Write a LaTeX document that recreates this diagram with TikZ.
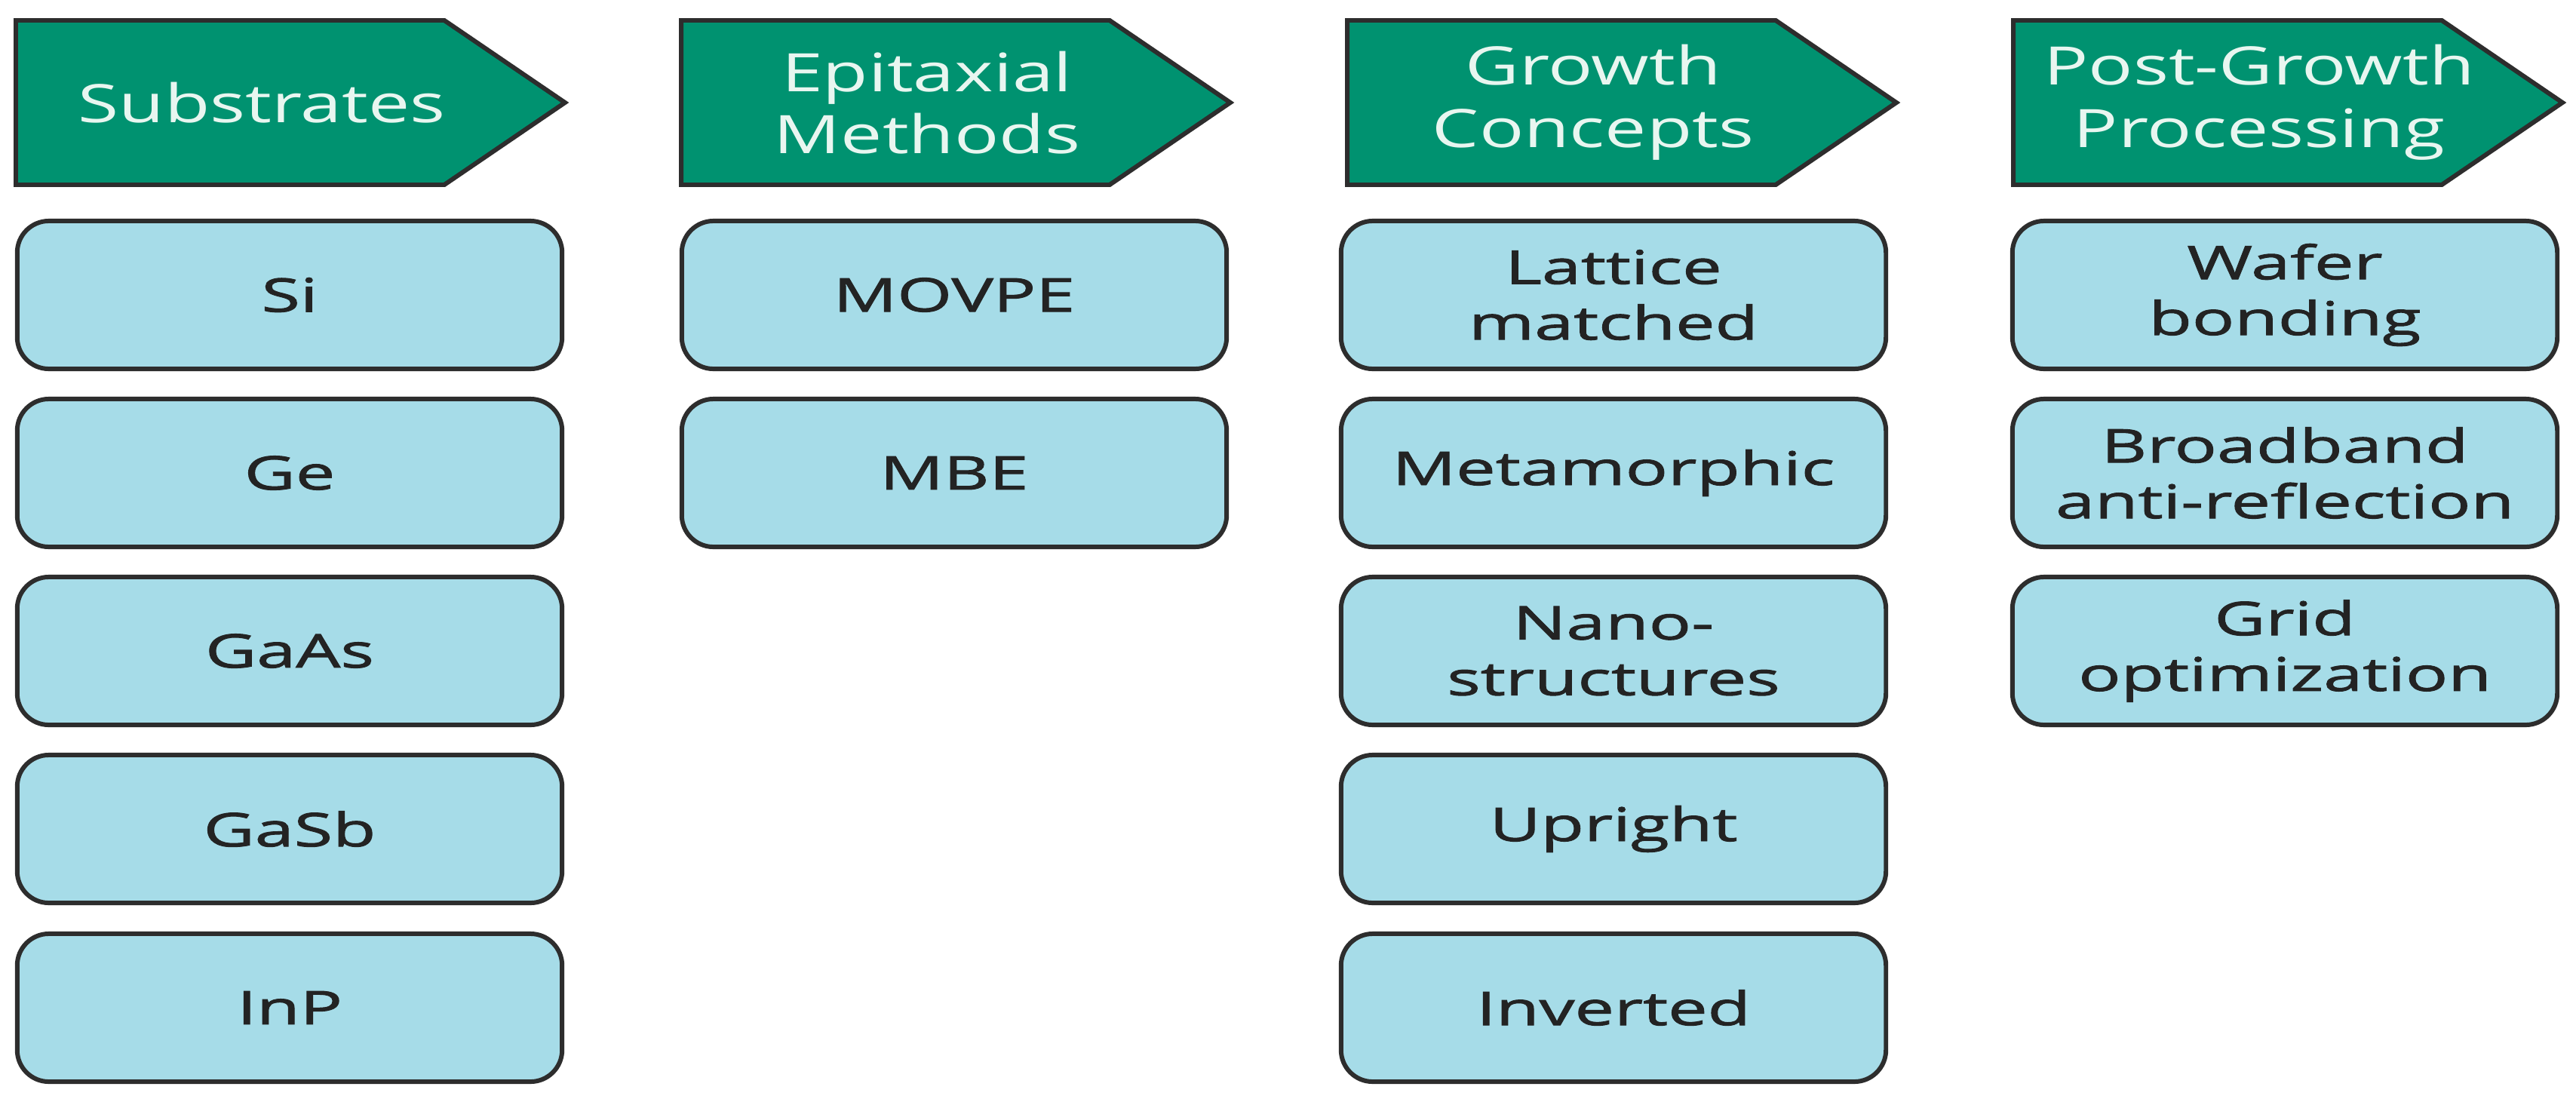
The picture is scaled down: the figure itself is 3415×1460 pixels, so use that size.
\documentclass[tikz,border=0pt]{standalone}
\usepackage{fontspec}
\setmainfont{Open Sans}
\newfontfamily\hdrfont{Open Sans}[FakeStretch=1.4]
\newfontfamily\itemfont{Open Sans}[FakeStretch=1.52,FakeBold=1.6]
\definecolor{hdrgreen}{RGB}{0,146,112}
\definecolor{boxblue}{RGB}{166,220,232}
\definecolor{edgegray}{RGB}{45,45,45}
\definecolor{hdrtxt}{RGB}{232,246,240}
\definecolor{itemtxt}{RGB}{35,35,35}
\tikzset{
  hdrshape/.style={fill=hdrgreen, draw=edgegray, line width=1.7pt, line join=miter},
  hdrtext/.style={text=hdrtxt, font=\hdrfont\fontsize{20}{23.5}\selectfont, align=center, inner sep=0pt},
  itembox/.style={draw=edgegray, fill=boxblue, line width=1.7pt, rounded corners=0.42cm,
    minimum width=7.22cm, minimum height=1.96cm, align=center, text=itemtxt,
    font=\itemfont\fontsize{17.5}{21}\selectfont, inner sep=0pt},
}
\newcommand\mkheader[3]{%
  \path[hdrshape] (#1,27) -- ++(568,0) -- ++(160,109) -- ++(-160,109) -- ++(-568,0) -- cycle;
  \node[hdrtext] (#2) at (#1+326,136) {#3};}
\begin{document}
\begin{tikzpicture}[x=0.01cm,y=-0.01cm]
\useasboundingbox[fill=white] (0,0) rectangle (3415,1460);
% headers
\mkheader{21}{h1}{Substrates}
\mkheader{903}{h2}{Epitaxial\\Methods}
\mkheader{1786}{h3}{Growth\\Concepts}
\mkheader{2669}{h4}{Post-Growth\\Processing}
% column 1
\node[itembox] (si)   at (384,391)  {Si};
\node[itembox] (ge)   at (384,627)  {Ge};
\node[itembox] (gaas) at (384,863)  {GaAs};
\node[itembox] (gasb) at (384,1099) {GaSb};
\node[itembox] (inp)  at (384,1336) {InP};
% column 2
\node[itembox] (movpe) at (1265,391) {MOVPE};
\node[itembox] (mbe)   at (1265,627) {MBE};
% column 3
\node[itembox] (lat)  at (2139,391)  {Lattice\\matched};
\node[itembox] (meta) at (2139,627)  {Metamorphic};
\node[itembox] (nano) at (2139,863)  {Nano-\\structures};
\node[itembox] (upr)  at (2139,1099) {Upright};
\node[itembox] (inv)  at (2139,1336) {Inverted};
% column 4
\node[itembox] (wafer) at (3029,391) {Wafer\\bonding};
\node[itembox] (broad) at (3029,627) {Broadband\\anti-reflection};
\node[itembox] (grid)  at (3029,863) {Grid\\optimization};
\end{tikzpicture}
\end{document}
